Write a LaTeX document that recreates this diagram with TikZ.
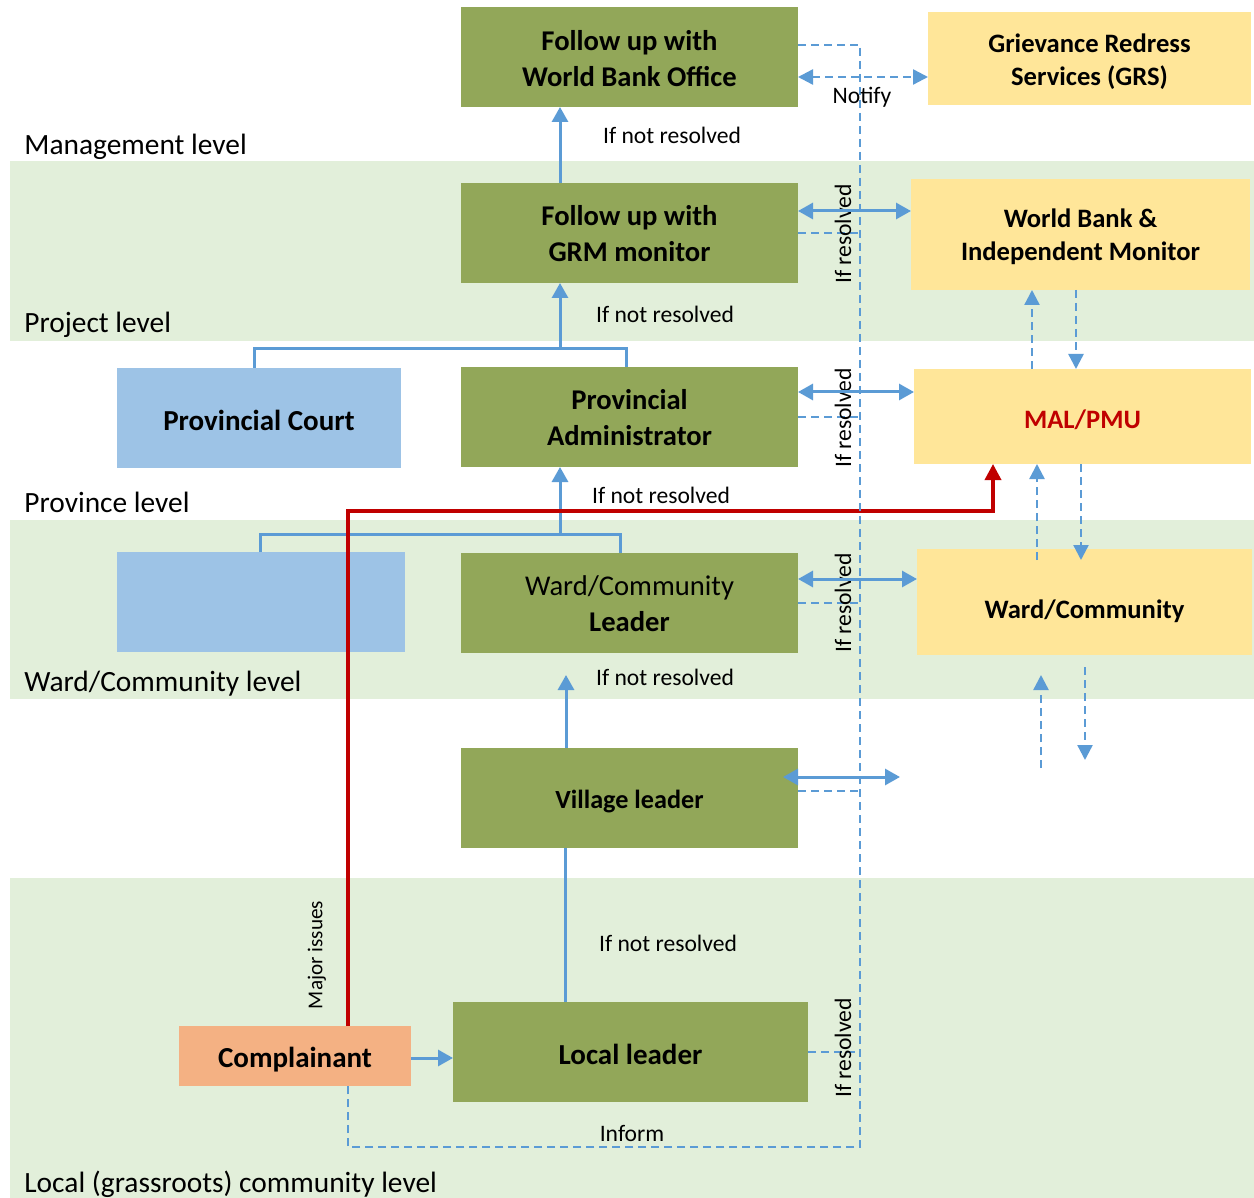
\documentclass[tikz,border=0pt]{standalone}
\usepackage{fontspec}
\setmainfont{Carlito}
\usetikzlibrary{arrows.meta}
\definecolor{bandc}{RGB}{226,239,218}
\definecolor{greenb}{RGB}{146,167,89}
\definecolor{yell}{RGB}{255,230,153}
\definecolor{lblue}{RGB}{157,195,230}
\definecolor{orng}{RGB}{244,177,131}
\definecolor{lnb}{RGB}{91,155,213}
\definecolor{redl}{RGB}{192,0,0}
\newcommand\bx[7]{\node[#6, minimum width={(#4-#2)*0.5}, minimum height={(#5-#3)*0.5}] (#1) at ({(#2+#4)/2},{(#3+#5)/2}) {#7};}
\newcommand\txtdown[2]{\raisebox{-#1}[\height][\depth]{#2}}
\tikzset{
  basebox/.style={inner sep=0pt, outer sep=0pt, align=center},
  gbox/.style={basebox, fill=greenb, font=\fontsize{14.3}{18}\selectfont\bfseries},
  ybox/.style={basebox, fill=yell, font=\fontsize{13.3}{16.5}\selectfont\bfseries},
  bbox/.style={basebox, fill=lblue, font=\fontsize{14.5}{18}\selectfont\bfseries},
  obox/.style={basebox, fill=orng, font=\fontsize{14.5}{18}\selectfont\bfseries},
  lbl/.style={inner sep=0pt, font=\fontsize{11.8}{14}\selectfont},
  lvl/.style={inner sep=0pt, anchor=base west, font=\fontsize{14.7}{17}\selectfont},
  ln/.style={draw=lnb, line width=1.5pt},
  arr/.style={ln, -{Triangle[length=7.5pt,width=8pt]}},
  arrtwo/.style={ln, {Triangle[length=7.5pt,width=8pt]}-{Triangle[length=7.5pt,width=8pt]}},
  dsh/.style={draw=lnb, line width=1.2pt, dash pattern=on 4pt off 2.5pt},
  darr/.style={dsh, -{Triangle[length=7.5pt,width=7.5pt]}},
  darrtwo/.style={dsh, {Triangle[length=7.5pt,width=7.5pt]}-{Triangle[length=7.5pt,width=7.5pt]}},
  redarr/.style={draw=redl, line width=1.75pt, -{Triangle[length=8pt,width=8pt]}},
}
\begin{document}
\begin{tikzpicture}[x=0.5pt,y=-0.5pt]
\useasboundingbox (0,0) rectangle (1254,1198);
\fill[white] (0,0) rectangle (1254,1198);
% bands
\fill[bandc] (10,161) rectangle (1254,341);
\fill[bandc] (10,520) rectangle (1254,699);
\fill[bandc] (10,878) rectangle (1254,1198);
% level labels
\node[lvl] (lmgmt) at (24,155) {Management level};
\node[lvl] (lproj) at (24,333) {Project level};
\node[lvl] (lprov) at (24,512) {Province level};
\node[lvl] (lward) at (24,691) {Ward/Community level};
\node[lvl] (lloc) at (24,1192) {Local (grassroots) community level};
% boxes
\bx{wbo}{461}{7}{798}{107}{gbox}{\rule{0pt}{12pt}Follow up with\\World Bank Office}
\bx{grs}{928}{12}{1251}{105}{ybox}{\rule{0pt}{13pt}Grievance Redress\\Services (GRS)}
\bx{grm}{461}{183}{798}{283}{gbox}{\rule{0pt}{11pt}Follow up with\\GRM monitor}
\bx{wbim}{911}{179}{1250}{290}{ybox}{\rule{0pt}{12pt}World Bank \&\\Independent Monitor}
\bx{pc}{117}{368}{401}{468}{bbox}{\txtdown{1pt}{Provincial Court}}
\bx{pa}{461}{367}{798}{467}{gbox}{\rule{0pt}{11pt}Provincial\\Administrator}
\bx{mal}{914}{369}{1251}{464}{ybox,text=redl}{\txtdown{1.5pt}{MAL/PMU}}
\bx{blank}{117}{552}{405}{652}{bbox}{}
\bx{wcl}{461}{553}{798}{653}{gbox}{\rule{0pt}{11pt}{\mdseries Ward/Community}\\Leader}
\bx{wc}{917}{549}{1252}{655}{ybox}{\txtdown{4.5pt}{Ward/Community}}
\bx{vl}{461}{748}{798}{848}{gbox,font=\fontsize{13.1}{16}\selectfont\bfseries}{\txtdown{2pt}{Village leader}}
\bx{comp}{179}{1026}{411}{1086}{obox}{\txtdown{2pt}{Complainant}}
\bx{ll}{453}{1002}{808}{1102}{gbox,font=\fontsize{14.5}{18}\selectfont\bfseries}{\txtdown{1pt}{Local leader}}
% escalation connectors
\draw[arr] (560,0 |- grm.north) -- (560,0 |- wbo.south);
\node[lbl] (n1) at (672,135) {If not resolved};
\draw[ln] (254,0 |- pc.north) -- (254,349) -- (626,349) -- (626,0 |- pa.north);
\draw[arr] (560,349) -- (560,0 |- grm.south);
\node[lbl] (n2) at (665,314) {If not resolved};
\draw[ln] (260,0 |- blank.north) -- (260,534) -- (620,534) -- (620,0 |- wcl.north);
\draw[arr] (560,534) -- (560,0 |- pa.south);
\node[lbl] (n3) at (661,495) {If not resolved};
\coordinate (vtop) at (566,675);
\draw[arr] (566,0 |- vl.north) -- (vtop);
\node[lbl] (n4) at (665,677) {If not resolved};
\draw[ln] (565,0 |- ll.north) -- (565,0 |- vl.south);
\node[lbl] (n5) at (668,943) {If not resolved};
\draw[arr] (comp.east |- 0,1058) -- (ll.west |- 0,1058);
% red major issues path
\draw[redarr] (348,0 |- comp.north) -- (348,511) -- (993,511) -- (993,0 |- mal.south);
\node[lbl, rotate=90, font=\fontsize{10.6}{13}\selectfont] (mi) at (317,955) {Major issues};
% dashed inform network
\draw[dsh] (wbo.east |- 0,45) -- (860,45) -- (860,1147) -- (348,1147) -- (348,0 |- comp.south);
\draw[dsh] (grm.east |- 0,233) -- (860,233);
\draw[dsh] (pa.east |- 0,417) -- (860,417);
\draw[dsh] (wcl.east |- 0,603) -- (860,603);
\draw[dsh] (vl.east |- 0,791) -- (860,791);
\draw[dsh] (ll.east |- 0,1052) -- (860,1052);
\node[lbl] (inf) at (632,1133) {Inform};
\node[lbl, rotate=90] (r1) at (843,234) {If resolved};
\node[lbl, rotate=90] (r2) at (843,418) {If resolved};
\node[lbl, rotate=90] (r3) at (843,603) {If resolved};
\node[lbl, rotate=90] (r4) at (843,1048) {If resolved};
% notify
\draw[darrtwo] (wbo.east |- 0,77) -- (grs.west |- 0,77);
\node[lbl] (nt) at (862,97) {Notify};
% solid double arrows
\draw[arrtwo] (grm.east |- 0,211) -- (wbim.west |- 0,211);
\draw[arrtwo] (pa.east |- 0,392) -- (mal.west |- 0,392);
\draw[arrtwo] (wcl.east |- 0,579) -- (wc.west |- 0,579);
\coordinate (vla) at (783,777);
\coordinate (vlb) at (900,777);
\draw[arrtwo] (vla) -- (vlb);
% dashed vertical arrows on the right
\draw[darr] (1032,0 |- mal.north) -- (1032,0 |- wbim.south);
\draw[darr] (1076,0 |- wbim.south) -- (1076,0 |- mal.north);
\coordinate (wcup) at (1037,560);
\coordinate (wcdn) at (1081,560);
\draw[darr] (wcup) -- (1037,0 |- mal.south);
\draw[darr] (1081,0 |- mal.south) -- (wcdn);
\coordinate (bu1) at (1041,768);
\coordinate (bu2) at (1041,675);
\coordinate (bd1) at (1085,667);
\coordinate (bd2) at (1085,760);
\draw[darr] (bu1) -- (bu2);
\draw[darr] (bd1) -- (bd2);
\end{tikzpicture}
\end{document}
